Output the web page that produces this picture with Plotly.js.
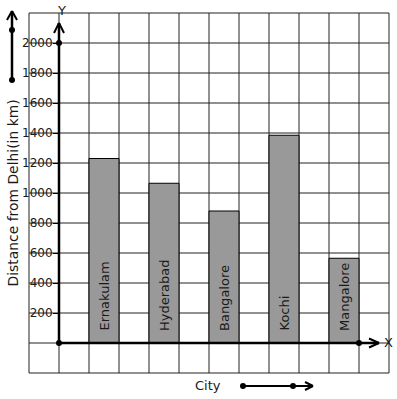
<!DOCTYPE html>
<html>
<head>
<meta charset="utf-8">
<script src="https://cdn.plot.ly/plotly-3.0.1.min.js"></script>
<style>html,body{margin:0;padding:0;background:#fff;}#chart{width:397px;height:399px;}</style>
</head>
<body>
<div id="chart"></div>
<script>
// ---- data ----
const cities = ['Ernakulam', 'Hyderabad', 'Bangalore', 'Kochi', 'Mangalore'];
const distances = [1230, 1065, 880, 1385, 565];
const yTickVals = [200, 400, 600, 800, 1000, 1200, 1400, 1600, 1800, 2000];
const yTickText = ['200', '400', '600', '800', '1000', '1200', '1400', '1600', '1800', '2000'];
const yTitle = 'Distance from Delhi(in km)';
const xTitle = 'City';

// ---- layout helpers (pixel -> data for decorations) ----
const W = 397, H = 399;
const OX = 59, OY = 343, PXU = 30, PYU = 0.15;
const dx = px => (px - OX) / PXU;
const dy = py => (OY - py) / PYU;

const barX = cities.map((c, i) => 1.5 + 2 * i);
const FONT = 'DejaVu Sans, sans-serif';
const INK = '#1a1a1a';

const shapes = [];
// grid
for (let i = -1; i <= 11; i++) {
  shapes.push({type: 'line', layer: 'below', x0: i, x1: i, y0: -200, y1: 2200, line: {color: '#222', width: 1}});
}
for (let v = -200; v <= 2200; v += 200) {
  shapes.push({type: 'line', layer: 'below', x0: -1, x1: 11, y0: v, y1: v, line: {color: '#222', width: 1}});
}
function seg(x0, y0, x1, y1, w) {
  shapes.push({type: 'line', layer: 'above', x0: dx(x0), y0: dy(y0), x1: dx(x1), y1: dy(y1), line: {color: '#000', width: w}});
}
// axes with arrowheads
seg(59, 343, 59, 23, 2.5);
seg(59, 23, 54, 33, 2); seg(59, 23, 64, 33, 2);
seg(59, 343, 379, 343, 2.5);
seg(379, 343, 369, 338.5, 2); seg(379, 343, 369, 347.5, 2);
// left arrow
seg(12, 80, 12, 11, 2.5);
seg(12, 11, 7, 20, 2); seg(12, 11, 17, 20, 2);
// bottom arrow
seg(243, 386, 313, 386, 2);
seg(313, 386, 305, 382, 2); seg(313, 386, 305, 390, 2);

const annotations = [];
cities.forEach((c, i) => {
  annotations.push({x: barX[i], y: dy(333), text: c, textangle: -90, showarrow: false,
    xanchor: 'center', yanchor: 'bottom', font: {family: FONT, size: 13, color: INK}});
});
annotations.push({x: dx(12), y: dy(193.5), text: yTitle, textangle: -90, showarrow: false,
  xanchor: 'center', yanchor: 'middle', font: {family: FONT, size: 13.9, color: INK}});
annotations.push({x: dx(208), y: dy(385), text: xTitle, showarrow: false,
  xanchor: 'center', yanchor: 'middle', font: {family: FONT, size: 13, color: INK}});
annotations.push({x: dx(61), y: dy(10), text: 'Y', showarrow: false,
  xanchor: 'center', yanchor: 'middle', font: {family: FONT, size: 13, color: INK}});
annotations.push({x: dx(388), y: dy(342), text: 'X', showarrow: false,
  xanchor: 'center', yanchor: 'middle', font: {family: FONT, size: 13, color: INK}});

const bars = {
  type: 'bar', x: barX, y: distances, width: 1,
  marker: {color: '#999999', line: {color: '#000', width: 1}},
  hoverinfo: 'skip'
};
const dots = {
  type: 'scatter', mode: 'markers',
  x: [0, 0, 10, dx(12), dx(12), dx(243), dx(293)],
  y: [0, 2000, 0, dy(30), dy(80), dy(386), dy(386)],
  marker: {color: '#000', size: 6}, hoverinfo: 'skip', cliponaxis: false
};

const layout = {
  width: W, height: H,
  margin: {l: 0, r: 0, t: 0, b: 0},
  paper_bgcolor: '#fff', plot_bgcolor: '#fff',
  showlegend: false,
  xaxis: {range: [dx(0), dx(W)], domain: [0, 1], visible: false, fixedrange: true},
  yaxis: {range: [dy(H), dy(0)], domain: [0, 1], anchor: 'free', position: OX / W,
    tickmode: 'array', tickvals: yTickVals, ticktext: yTickText,
    ticks: 'outside', ticklen: 6, tickwidth: 1, tickcolor: '#000',
    ticklabelstandoff: -2,
    showgrid: false, zeroline: false, showline: false,
    tickfont: {family: FONT, size: 12, color: INK}, fixedrange: true},
  shapes: shapes,
  annotations: annotations
};

Plotly.newPlot('chart', [bars, dots], layout, {displayModeBar: false, staticPlot: true});
</script>
</body>
</html>
